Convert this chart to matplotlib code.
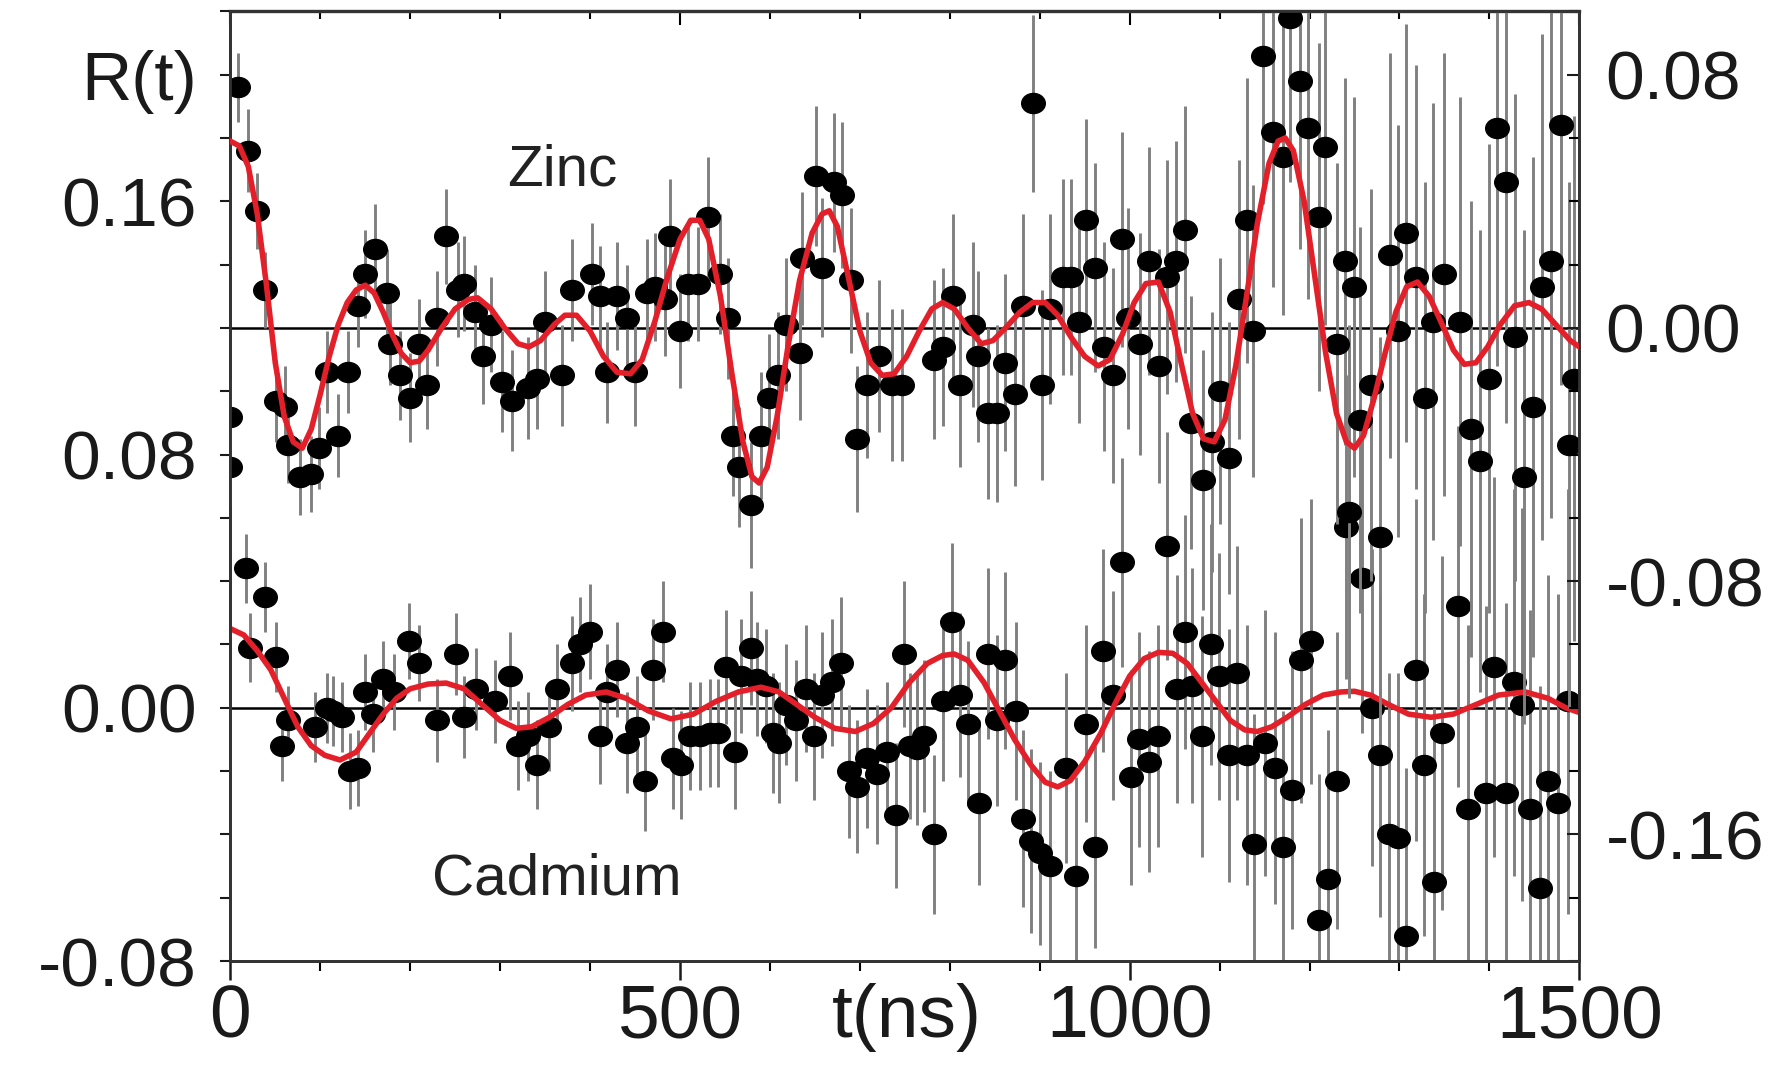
import numpy as np
import matplotlib
matplotlib.use("Agg")
import matplotlib.pyplot as plt
from matplotlib.markers import MarkerStyle
from matplotlib.transforms import Affine2D

plt.rcParams['font.family'] = ['Liberation Sans', 'DejaVu Sans']

# Zinc data (right axis), time in ns
t_zinc = [0, 0, 9, 20, 30, 39, 51, 61, 64, 77, 90, 99, 107, 120, 131, 142, 150, 161, 174, 178,
          189, 200, 210, 219, 230, 240, 253, 260, 272, 281, 290, 302, 313, 331, 341, 350, 369, 380,
          402, 411, 419, 430, 441, 450, 463, 472, 483, 489, 500, 509, 520, 531, 544, 553, 559, 566,
          579, 590, 599, 609, 618, 633, 636, 651, 658, 671, 680, 690, 697, 708, 721, 736, 747, 783,
          793, 804, 811, 826, 831, 843, 852, 861, 872, 881, 892, 902, 911, 926, 935, 944, 952, 961,
          972, 981, 992, 998, 1011, 1022, 1033, 1042, 1051, 1061, 1068, 1081, 1091, 1101, 1111, 1122,
          1131, 1137, 1148, 1159, 1170, 1178, 1189, 1198, 1211, 1217, 1231, 1239, 1244, 1250, 1256,
          1268, 1278, 1289, 1298, 1307, 1318, 1328, 1337, 1350, 1367, 1380, 1389, 1400, 1409, 1418,
          1429, 1438, 1448, 1459, 1468, 1480, 1489, 1494]
r_zinc = [-0.028, -0.044, 0.076, 0.056, 0.037, 0.012, -0.023, -0.025, -0.037, -0.047, -0.046, -0.038,
          -0.014, -0.034, -0.014, 0.007, 0.017, 0.025, 0.011, -0.005, -0.015, -0.022, -0.005, -0.018,
          0.003, 0.029, 0.012, 0.014, 0.005, -0.009, 0.001, -0.017, -0.023, -0.019, -0.016, 0.002,
          -0.015, 0.012, 0.017, 0.010, -0.014, 0.010, 0.003, -0.014, 0.011, 0.013, 0.009, 0.029,
          -0.001, 0.014, 0.014, 0.035, 0.017, 0.003, -0.034, -0.044, -0.056, -0.034, -0.022, -0.015,
          0.001, -0.008, 0.022, 0.048, 0.019, 0.046, 0.042, 0.015, -0.035, -0.018, -0.009, -0.018,
          -0.018, -0.010, -0.006, 0.010, -0.018, 0.001, -0.009, -0.027, -0.027, -0.011, -0.021, 0.007,
          0.071, -0.018, 0.006, 0.016, 0.016, 0.002, 0.034, 0.019, -0.006, -0.015, 0.028, 0.003,
          -0.005, 0.021, -0.012, 0.016, 0.021, 0.031, -0.030, -0.048, -0.036, -0.020, -0.041, 0.009,
          0.034, -0.001, 0.086, 0.062, 0.054, 0.098, 0.078, 0.063, 0.035, 0.057, -0.005, 0.021,
          -0.058, 0.013, -0.029, -0.018, -0.066, 0.023, -0.001, 0.030, 0.016, -0.022, 0.002, 0.017,
          0.002, -0.032, -0.042, -0.016, 0.063, 0.046, -0.003, -0.047, -0.025, 0.013, 0.021, 0.064,
          -0.037, -0.016]
e_zinc = [0.012, 0.012, 0.011, 0.013, 0.012, 0.012, 0.013, 0.013, 0.012, 0.012, 0.012, 0.013,
          0.013, 0.013, 0.013, 0.013, 0.014, 0.014, 0.014, 0.013, 0.014, 0.014, 0.014, 0.014,
          0.015, 0.015, 0.015, 0.015, 0.015, 0.015, 0.015, 0.016, 0.016, 0.016, 0.016, 0.016,
          0.016, 0.016, 0.016, 0.016, 0.016, 0.017, 0.017, 0.017, 0.017, 0.017, 0.018, 0.018,
          0.018, 0.018, 0.018, 0.019, 0.019, 0.019, 0.019, 0.019, 0.020, 0.020, 0.020, 0.020,
          0.021, 0.021, 0.021, 0.022, 0.022, 0.022, 0.023, 0.023, 0.023, 0.023, 0.024, 0.024,
          0.024, 0.025, 0.025, 0.026, 0.026, 0.026, 0.027, 0.027, 0.028, 0.028, 0.029, 0.029,
          0.028, 0.030, 0.030, 0.031, 0.031, 0.032, 0.032, 0.033, 0.033, 0.034, 0.034, 0.035,
          0.035, 0.036, 0.037, 0.037, 0.038, 0.039, 0.040, 0.041, 0.041, 0.042, 0.043, 0.044,
          0.045, 0.046, 0.047, 0.049, 0.050, 0.052, 0.053, 0.054, 0.055, 0.056, 0.057, 0.058,
          0.059, 0.060, 0.061, 0.062, 0.063, 0.064, 0.065, 0.066, 0.067, 0.068, 0.069, 0.070,
          0.071, 0.072, 0.073, 0.074, 0.075, 0.076, 0.077, 0.078, 0.079, 0.080, 0.081, 0.082,
          0.083, 0.083]

# Cadmium data (left axis)
t_cd = [17, 22, 39, 51, 58, 64, 94, 107, 114, 124, 133, 142, 150, 159, 170, 182, 199, 210, 230,
        251, 260, 273, 294, 311, 320, 331, 341, 354, 363, 380, 389, 400, 411, 419, 430, 441, 452,
        461, 470, 481, 492, 501, 511, 522, 533, 542, 551, 561, 568, 579, 586, 596, 603, 610, 618,
        629, 640, 649, 658, 669, 679, 688, 697, 708, 719, 730, 740, 749, 756, 763, 771, 782, 793,
        802, 811, 820, 833, 842, 852, 861, 874, 881, 890, 900, 911, 929, 940, 951, 961, 970, 981,
        992, 1001, 1010, 1021, 1031, 1042, 1053, 1062, 1069, 1080, 1090, 1099, 1110, 1119, 1130,
        1138, 1151, 1162, 1171, 1180, 1191, 1202, 1211, 1220, 1231, 1241, 1258, 1269, 1278, 1288,
        1298, 1307, 1318, 1327, 1338, 1347, 1365, 1376, 1396, 1405, 1418, 1427, 1436, 1445, 1456,
        1465, 1476, 1487]
r_cd = [0.044, 0.019, 0.035, 0.016, -0.012, -0.004, -0.006, 0.000, -0.001, -0.003, -0.020, -0.019,
        0.005, -0.002, 0.009, 0.005, 0.021, 0.014, -0.004, 0.017, -0.003, 0.006, 0.002, 0.010,
        -0.012, -0.009, -0.018, -0.006, 0.006, 0.014, 0.020, 0.024, -0.009, 0.005, 0.012, -0.011,
        -0.006, -0.023, 0.012, 0.024, -0.016, -0.018, -0.009, -0.009, -0.008, -0.008, 0.013, -0.014,
        0.010, 0.019, 0.009, 0.007, -0.008, -0.011, 0.001, -0.004, 0.006, -0.009, 0.004, 0.008,
        0.014, -0.020, -0.025, -0.016, -0.021, -0.014, -0.034, 0.017, -0.012, -0.013, -0.009, -0.040,
        0.002, 0.027, 0.004, -0.005, -0.030, 0.017, -0.004, 0.015, -0.001, -0.035, -0.042, -0.046,
        -0.050, -0.019, -0.053, -0.005, -0.044, 0.018, 0.004, 0.046, -0.022, -0.010, -0.017, -0.009,
        0.051, 0.006, 0.024, 0.007, -0.009, 0.020, 0.010, -0.015, 0.011, -0.015, -0.043, -0.011,
        -0.019, -0.044, -0.026, 0.015, 0.021, -0.067, -0.054, -0.023, 0.057, 0.041, 0.000, -0.015,
        -0.040, -0.041, -0.072, 0.012, -0.018, -0.055, -0.008, 0.032, -0.032, -0.027, 0.013, -0.027,
        0.008, 0.001, -0.032, -0.057, -0.023, -0.030, 0.002]
e_cd = [0.011, 0.011, 0.011, 0.011, 0.011, 0.011, 0.011, 0.011, 0.011, 0.011, 0.012, 0.012,
        0.012, 0.012, 0.012, 0.012, 0.012, 0.012, 0.013, 0.013, 0.013, 0.013, 0.013, 0.014,
        0.014, 0.014, 0.014, 0.014, 0.014, 0.015, 0.015, 0.015, 0.015, 0.015, 0.015, 0.016,
        0.016, 0.016, 0.016, 0.016, 0.016, 0.017, 0.017, 0.017, 0.017, 0.017, 0.018, 0.018,
        0.018, 0.018, 0.018, 0.018, 0.019, 0.019, 0.019, 0.019, 0.020, 0.020, 0.020, 0.020,
        0.021, 0.021, 0.021, 0.022, 0.022, 0.022, 0.023, 0.023, 0.023, 0.024, 0.024, 0.025,
        0.025, 0.025, 0.026, 0.026, 0.026, 0.027, 0.027, 0.028, 0.028, 0.028, 0.029, 0.029,
        0.030, 0.030, 0.031, 0.031, 0.032, 0.032, 0.033, 0.033, 0.034, 0.034, 0.035, 0.035,
        0.036, 0.036, 0.037, 0.037, 0.038, 0.038, 0.039, 0.040, 0.040, 0.041, 0.041, 0.042,
        0.043, 0.043, 0.044, 0.045, 0.045, 0.046, 0.047, 0.047, 0.048, 0.049, 0.050, 0.051,
        0.051, 0.052, 0.053, 0.054, 0.054, 0.055, 0.056, 0.057, 0.058, 0.059, 0.060, 0.060,
        0.061, 0.062, 0.063, 0.064, 0.065, 0.066, 0.067]

# fitted curves
fit_t_zinc = [0, 10, 20, 30, 40, 50, 60, 70, 80, 90, 100, 110, 120, 130, 140, 150, 160, 170, 180, 190,
              200, 210, 220, 235, 250, 265, 275, 290, 305, 320, 332, 345, 360, 372, 385, 400, 415, 430,
              445, 458, 472, 486, 500, 512, 522, 532, 545, 558, 570, 580, 588, 597, 608, 620, 633, 647,
              658, 666, 675, 688, 700, 712, 725, 738, 752, 766, 780, 792, 805, 820, 835, 848, 862, 878,
              892, 906, 920, 935, 950, 965, 978, 992, 1005, 1018, 1032, 1045, 1058, 1070, 1082, 1094,
              1106, 1118, 1130, 1142, 1155, 1165, 1173, 1182, 1194, 1206, 1218, 1230, 1241, 1250, 1260,
              1272, 1284, 1296, 1308, 1320, 1333, 1346, 1360, 1372, 1385, 1398, 1412, 1428, 1444, 1458,
              1474, 1490, 1500]
fit_r_zinc = [0.059, 0.0575, 0.051, 0.036, 0.014, -0.011, -0.028, -0.036, -0.038, -0.032, -0.021, -0.009,
              0.001, 0.008, 0.012, 0.0135, 0.011, 0.005, -0.002, -0.008, -0.011, -0.0105, -0.007, 0.000,
              0.006, 0.009, 0.0095, 0.006, 0.000, -0.005, -0.006, -0.004, 0.001, 0.004, 0.004, -0.001,
              -0.009, -0.014, -0.0145, -0.010, 0.002, 0.016, 0.028, 0.034, 0.034, 0.028, 0.010, -0.015,
              -0.036, -0.047, -0.049, -0.044, -0.028, -0.006, 0.015, 0.030, 0.036, 0.037, 0.032, 0.015,
              -0.001, -0.011, -0.015, -0.0145, -0.009, -0.001, 0.006, 0.008, 0.006, 0.000, -0.005, -0.004,
              0.000, 0.005, 0.008, 0.008, 0.004, -0.003, -0.009, -0.012, -0.010, -0.002, 0.008, 0.014,
              0.0145, 0.005, -0.012, -0.027, -0.035, -0.036, -0.029, -0.012, 0.010, 0.033, 0.052, 0.059,
              0.060, 0.056, 0.040, 0.016, -0.008, -0.027, -0.036, -0.038, -0.034, -0.022, -0.008, 0.005,
              0.013, 0.0145, 0.010, 0.002, -0.007, -0.0115, -0.011, -0.006, 0.001, 0.007, 0.008, 0.006,
              0.001, -0.004, -0.006]

fit_t_cd = [0, 15, 30, 45, 60, 75, 90, 105, 122, 140, 155, 170, 185, 200, 220, 240, 260, 280, 300, 318,
            335, 355, 375, 395, 418, 440, 465, 490, 515, 540, 565, 590, 610, 630, 650, 672, 695, 715,
            735, 755, 775, 792, 805, 820, 838, 855, 872, 890, 906, 920, 934, 950, 968, 985, 1000, 1016,
            1032, 1048, 1064, 1080, 1096, 1112, 1128, 1142, 1158, 1175, 1195, 1215, 1235, 1250, 1268,
            1288, 1310, 1335, 1360, 1385, 1410, 1440, 1465, 1485, 1500]
fit_r_cd = [0.025, 0.023, 0.018, 0.012, 0.003, -0.006, -0.012, -0.015, -0.0165, -0.014, -0.008, -0.002,
            0.003, 0.006, 0.0075, 0.0078, 0.006, 0.001, -0.004, -0.0065, -0.006, -0.003, 0.001, 0.004,
            0.005, 0.003, -0.001, -0.0035, -0.002, 0.002, 0.005, 0.0065, 0.005, 0.001, -0.003, -0.0065,
            -0.0075, -0.005, 0.000, 0.008, 0.014, 0.0165, 0.017, 0.015, 0.008, -0.001, -0.010, -0.018,
            -0.0235, -0.025, -0.023, -0.017, -0.008, 0.002, 0.010, 0.0155, 0.0175, 0.0172, 0.014, 0.008,
            0.002, -0.004, -0.007, -0.0075, -0.006, -0.003, 0.001, 0.004, 0.005, 0.0052, 0.004, 0.001,
            -0.002, -0.003, -0.002, 0.001, 0.004, 0.005, 0.003, 0.000, -0.0015]

dot = MarkerStyle('o', transform=Affine2D().scale(1.0, 0.85))
red = '#e3202a'
bar_col = '0.5'
txt_col = '#1a1a1a'

fig = plt.figure(figsize=(17.88, 10.71), dpi=100)
ax = fig.add_axes([0.1288, 0.1027, 0.7545, 0.8867])
ax.set_xlim(0, 1500)
ax.set_ylim(-0.08, 0.22)
ax2 = ax.twinx()
ax2.set_ylim(-0.20, 0.10)

# cadmium on the left scale
ax.axhline(0, color='black', lw=1.8, zorder=1)
ax.errorbar(t_cd, r_cd, yerr=e_cd, fmt='none', ecolor=bar_col, elinewidth=2.1, capsize=0, zorder=1)
ax.plot(t_cd, r_cd, ls='none', marker=dot, ms=17, color='black', zorder=2)
ax.plot(fit_t_cd, fit_r_cd, color=red, lw=4, zorder=3)

# zinc on the right scale
ax2.axhline(0, color='black', lw=1.8, zorder=1)
ax2.errorbar(t_zinc, r_zinc, yerr=e_zinc, fmt='none', ecolor=bar_col, elinewidth=2.1, capsize=0, zorder=1)
ax2.plot(t_zinc, r_zinc, ls='none', marker=dot, ms=17, color='black', zorder=2)
ax2.plot(fit_t_zinc, fit_r_zinc, color=red, lw=4, zorder=3)

ax.text(369, 0.1697, 'Zinc', fontsize=42, color='#222222', ha='center', va='center')
ax.text(363, -0.0544, 'Cadmium', fontsize=42, color='#222222', ha='center', va='center')

# x axis: t(ns) sits in the tick label row
ax.set_xticks([0, 500, 752, 1000, 1500])
ax.set_xticklabels(['0', '500', 't(ns)', '1000', '1500'])
ax.set_xticks(np.arange(0, 1501, 100), minor=True)
ax.tick_params(axis='x', which='major', direction='out', length=14, width=1.8,
               labelsize=54, pad=2, colors=txt_col)
ax.tick_params(axis='x', which='minor', direction='out', length=7, width=1.5)
ax.xaxis.get_major_ticks()[2].tick1line.set_visible(False)

top = ax.secondary_xaxis('top')
top.set_xticks([0, 500, 1000, 1500])
top.set_xticks(np.arange(0, 1501, 100), minor=True)
top.tick_params(axis='x', which='major', direction='in', length=10, width=1.5, labeltop=False)
top.tick_params(axis='x', which='minor', direction='in', length=6, width=1.5)

ax.set_yticks([-0.08, 0.0, 0.08, 0.16, 0.20])
ax.set_yticklabels(['-0.08', '0.00', '0.08', '0.16', 'R(t)'])
ax.set_yticks(np.arange(-0.08, 0.221, 0.02), minor=True)
ax.tick_params(axis='y', which='both', direction='out', length=7, width=1.5,
               labelsize=50, pad=17, colors=txt_col)

ax2.set_yticks([-0.16, -0.08, 0.0, 0.08])
ax2.set_yticklabels(['-0.16', '-0.08', '0.00', '0.08'])
ax2.set_yticks(np.arange(-0.20, 0.101, 0.02), minor=True)
ax2.tick_params(axis='y', which='major', direction='in', length=9, width=1.5,
                labelsize=50, pad=19, colors=txt_col)
ax2.tick_params(axis='y', which='minor', direction='in', length=7, width=1.5)

for a in (ax, ax2):
    for s in a.spines.values():
        s.set_color('0.2')
        s.set_linewidth(2)
top.spines['top'].set_color('0.4')
top.spines['top'].set_linewidth(2.5)

fig.savefig('out.png', dpi=100)
